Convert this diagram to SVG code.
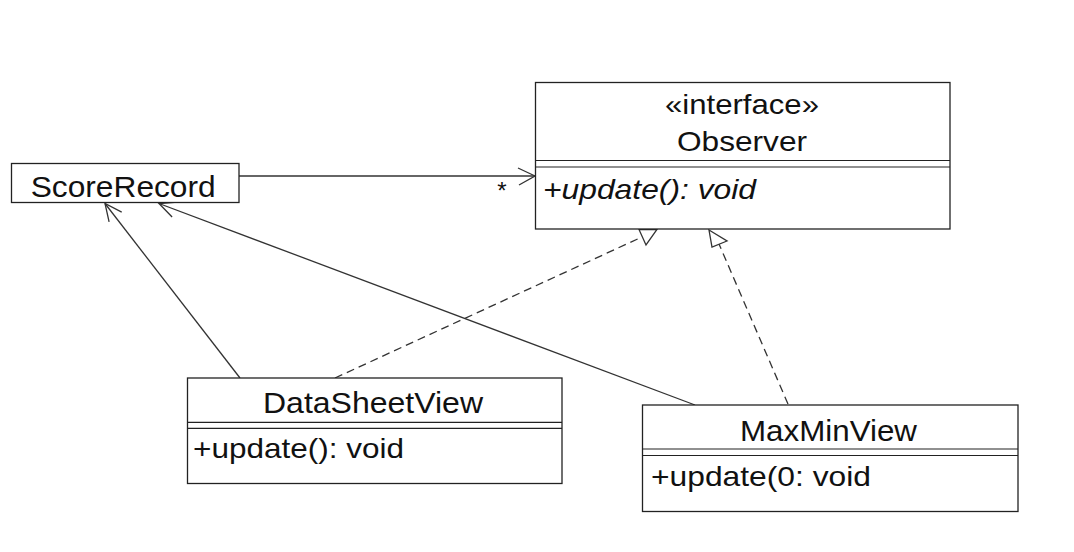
<svg xmlns="http://www.w3.org/2000/svg" width="1074" height="552" viewBox="0 0 1074 552">
<style>
.box{fill:#fff;stroke:#222;stroke-width:1.3}
.div{stroke:#222;stroke-width:1.2}
.t{font-family:"Liberation Sans",Arial,sans-serif;fill:#111}
.c{stroke:#333;stroke-width:1.3;fill:none}
.d{stroke:#333;stroke-width:1.3;fill:none;stroke-dasharray:8 5}
.tri{fill:#fff;stroke:#333;stroke-width:1.3}
</style>
<rect width="1074" height="552" fill="#fff"/>
<g id="connectors">
  <line class="c" x1="239" y1="176" x2="535" y2="176"/>
  <polyline class="c" points="518,168 535,176 519,185"/>
  <text class="t" x="502" y="199" font-size="24" text-anchor="middle">*</text>
  <line class="c" x1="240" y1="378" x2="105" y2="203.5"/>
  <polyline class="c" points="109.1,221.9 105,203.5 121.7,212.1"/>
  <line class="c" x1="695" y1="405" x2="159" y2="203.5"/>
  <polyline class="c" points="172.1,217 159,203.5 177.7,202"/>
  <line class="d" x1="335" y1="378" x2="642" y2="237"/>
  <polygon class="tri" points="639,229.5 657,229.5 646,245"/>
  <line class="d" x1="788" y1="404" x2="719" y2="244"/>
  <polygon class="tri" points="709,230 727,241 712,247"/>
</g>
<g id="Observer">
  <rect class="box" x="535.5" y="82.5" width="414.5" height="146.5"/>
  <line class="div" x1="535.5" y1="160.5" x2="950" y2="160.5"/>
  <line class="div" x1="535.5" y1="167" x2="950" y2="167"/>
  <text class="t" x="742" y="114" font-size="28" text-anchor="middle" textLength="154" lengthAdjust="spacingAndGlyphs">«interface»</text>
  <text class="t" x="742" y="151" font-size="28" text-anchor="middle" textLength="130" lengthAdjust="spacingAndGlyphs">Observer</text>
  <text class="t" x="543" y="199" font-size="28" font-style="italic" textLength="213" lengthAdjust="spacingAndGlyphs">+update(): void</text>
</g>
<g id="ScoreRecord">
  <rect class="box" x="11.5" y="163.5" width="227.5" height="39"/>
  <text class="t" x="30.7" y="197" font-size="29" textLength="185" lengthAdjust="spacingAndGlyphs">ScoreRecord</text>
</g>
<g id="DataSheetView">
  <rect class="box" x="187.5" y="378" width="374.5" height="105.5"/>
  <line class="div" x1="187.5" y1="422.3" x2="562" y2="422.3"/>
  <line class="div" x1="187.5" y1="428.3" x2="562" y2="428.3"/>
  <text class="t" x="373" y="412.5" font-size="29" text-anchor="middle" textLength="220" lengthAdjust="spacingAndGlyphs">DataSheetView</text>
  <text class="t" x="193" y="458" font-size="28" textLength="211" lengthAdjust="spacingAndGlyphs">+update(): void</text>
</g>
<g id="MaxMinView">
  <rect class="box" x="642.5" y="405" width="375.5" height="106.5"/>
  <line class="div" x1="642.5" y1="449" x2="1018" y2="449"/>
  <line class="div" x1="642.5" y1="455.5" x2="1018" y2="455.5"/>
  <text class="t" x="828.5" y="440.5" font-size="29" text-anchor="middle" textLength="177" lengthAdjust="spacingAndGlyphs">MaxMinView</text>
  <text class="t" x="651" y="486" font-size="28" textLength="220" lengthAdjust="spacingAndGlyphs">+update(0: void</text>
</g>
</svg>
